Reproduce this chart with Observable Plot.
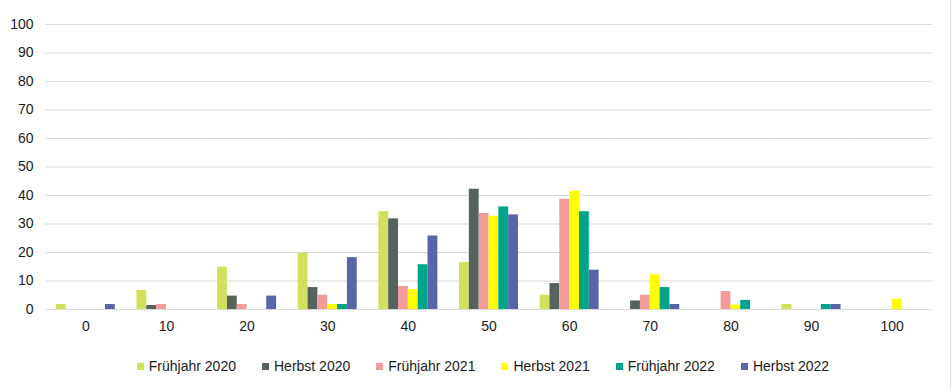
<!DOCTYPE html>
<html>
<head>
<meta charset="utf-8">
<script src="https://cdn.jsdelivr.net/npm/d3@7"></script>
<script src="https://cdn.jsdelivr.net/npm/@observablehq/plot@0.6"></script>
<style>
  html, body { margin: 0; padding: 0; background: #fff; }
  body { width: 952px; height: 389px; overflow: hidden; font-family: "Liberation Sans", Arial, sans-serif; position: relative; }
  #edge { position: absolute; left: 950px; top: 0; width: 1px; height: 389px; background: #d9d9d9; }
  #legend { display: flex; justify-content: center; align-items: center; margin-top: 12px; padding-left: 14px; font-size: 14px; color: #1a1a1a; line-height: 18px; }
  .item { display: flex; align-items: center; margin: 0 13px; }
  .sw { width: 7px; height: 7px; margin-right: 5px; }
</style>
</head>
<body>
<div id="chart"></div>
<div id="legend"></div>
<div id="edge"></div>
<script>
const categories = [0, 10, 20, 30, 40, 50, 60, 70, 80, 90, 100];
const seriesNames = ["Frühjahr 2020", "Herbst 2020", "Frühjahr 2021", "Herbst 2021", "Frühjahr 2022", "Herbst 2022"];
const seriesColors = ["#d2e05c", "#56625d", "#f39b9b", "#ffff00", "#00a48a", "#5a64a8"];
const fruehjahr2020 = [1.75, 6.7, 14.9, 19.8, 34.3, 16.5, 5.0, 0, 0, 1.75, 0];
const herbst2020    = [0, 1.4, 4.7, 7.7, 31.8, 42.2, 9.1, 3.0, 0, 0, 0];
const fruehjahr2021 = [0, 1.75, 1.75, 5.0, 8.1, 33.7, 38.7, 5.0, 6.3, 0, 0];
const herbst2021    = [0, 0, 0, 1.75, 7.0, 32.7, 41.5, 12.2, 1.6, 0, 3.6];
const fruehjahr2022 = [0, 0, 0, 1.75, 15.7, 36.0, 34.3, 7.7, 3.2, 1.75, 0];
const herbst2022    = [1.75, 0, 4.7, 18.2, 25.8, 33.2, 13.8, 1.75, 0, 1.75, 0];
const yTicks = [0, 10, 20, 30, 40, 50, 60, 70, 80, 90, 100];

const seriesValues = [fruehjahr2020, herbst2020, fruehjahr2021, herbst2021, fruehjahr2022, herbst2022];
const data = categories.flatMap((c, i) =>
  seriesNames.map((s, j) => ({category: c, series: s, value: seriesValues[j][i]}))
);

const chart = Plot.plot({
  width: 952,
  height: 345,
  marginLeft: 45,
  marginRight: 20,
  marginTop: 24,
  marginBottom: 36,
  style: {fontFamily: "'Liberation Sans', Arial, sans-serif", fontSize: "14px", color: "#1a1a1a", background: "#fff"},
  fx: {domain: categories, padding: 0, round: false, label: null},
  x: {domain: seriesNames, paddingInner: 0, paddingOuter: 1.1, round: false, axis: null},
  y: {domain: [0, 100], ticks: yTicks, label: null},
  color: {domain: seriesNames, range: seriesColors},
  marks: [
    Plot.gridY(yTicks, {stroke: "#d9d9d9", strokeOpacity: 1, strokeWidth: 1}),
    Plot.axisY(yTicks, {tickSize: 0, tickPadding: 12, label: null, fontSize: 14}),
    Plot.axisFx({anchor: "bottom", tickSize: 0, tickPadding: 12, label: null, fontSize: 14}),
    Plot.barY(data, {fx: "category", x: "series", y: "value", fill: "series", insetLeft: 0, insetRight: 0})
  ]
});
document.getElementById("chart").appendChild(chart);

const legend = document.getElementById("legend");
seriesNames.forEach((s, j) => {
  const item = document.createElement("div");
  item.className = "item";
  const sw = document.createElement("span");
  sw.className = "sw";
  sw.style.background = seriesColors[j];
  const t = document.createElement("span");
  t.textContent = s;
  item.appendChild(sw);
  item.appendChild(t);
  legend.appendChild(item);
});
</script>
</body>
</html>
